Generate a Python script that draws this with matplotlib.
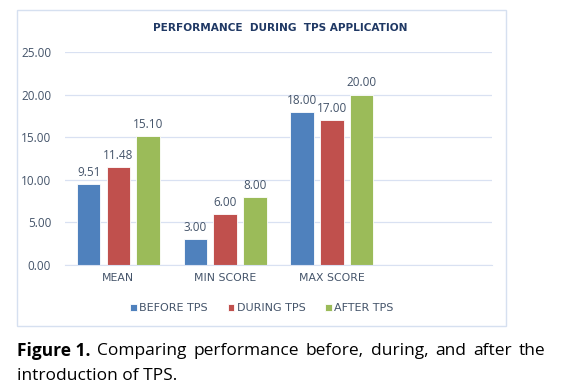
"""
Performance during TPS application - grouped bar chart.
"""
import numpy as np
import matplotlib
matplotlib.use("Agg")
from matplotlib import pyplot as plt
from matplotlib.patches import Rectangle

categories = ["MEAN", "MIN SCORE", "MAX SCORE", ""]
before_tps = [9.51, 3.00, 18.00]
during_tps = [11.48, 6.00, 17.00]
after_tps = [15.10, 8.00, 20.00]
series_names = ["BEFORE TPS", "DURING TPS", "AFTER TPS"]
y_ticks = [0, 5, 10, 15, 20, 25]

colors = ["#4F81BD", "#C0504D", "#9BBB59"]
tick_color = "#44546A"
title_color = "#1F3864"

plt.rcParams['font.family'] = ['Open Sans', 'DejaVu Sans']

W, H = 561, 389
fig = plt.figure(figsize=(W / 100, H / 100), dpi=100)


def fx(px):
    return px / W


def fy(py):
    return 1 - py / H


# chart frame
fig.patches.append(Rectangle((fx(17), fy(326)), fx(506) - fx(17), fy(10) - fy(326),
                             transform=fig.transFigure, fill=False,
                             edgecolor="#D6E0F0", linewidth=1.0))

ax = fig.add_axes([fx(65), fy(265), fx(492) - fx(65), fy(52) - fy(265)])
x = np.arange(len(categories))
width = 0.22
offset = 0.278
for i, (vals, name) in enumerate(zip([before_tps, during_tps, after_tps], series_names)):
    pos = x[:len(vals)] + (i - 1) * offset
    bars = ax.bar(pos, vals, width, color=colors[i], edgecolor="white",
                  linewidth=0.6, label=name, zorder=2)
    for b, v in zip(bars, vals):
        ax.text(b.get_x() + b.get_width() / 2, v + 0.6, "%.2f" % v, ha="center",
                va="bottom", fontsize=8.5, color=tick_color)

ax.set_xlim(-0.5, len(categories) - 0.5)
ax.set_ylim(0, 25)
ax.set_yticks(y_ticks)
ax.set_yticklabels(["%.2f" % t for t in y_ticks])
ax.set_xticks(x)
ax.set_xticklabels(categories)
ax.tick_params(axis="both", length=0, colors=tick_color, labelsize=8.5)
ax.tick_params(axis="y", pad=10)
ax.tick_params(axis="x", pad=6)
for lbl in ax.get_xticklabels():
    lbl.set_fontfamily(['DejaVu Sans'])
    lbl.set_fontsize(7.8)
ax.grid(axis="y", color="#D9E1F2", linewidth=0.9, zorder=0)
for s in ["top", "right", "left"]:
    ax.spines[s].set_visible(False)
ax.spines["bottom"].set_color("#D9E1F2")

fig.text(fx(280), fy(28), "PERFORMANCE  DURING  TPS APPLICATION", ha="center",
         va="center", fontsize=7.6, fontweight="bold", color=title_color,
         family=['DejaVu Sans'])

leg = fig.legend(loc="center", bbox_to_anchor=(fx(262), fy(308)), ncol=3, frameon=False,
                 handlelength=0.6, handleheight=0.6, handletextpad=0.2,
                 columnspacing=1.8, prop={'family': 'DejaVu Sans', 'size': 8})
for t in leg.get_texts():
    t.set_color(tick_color)

# caption, justified first line
fig.canvas.draw()
renderer = fig.canvas.get_renderer()
words = ["Comparing", "performance", "before,", "during,", "and", "after", "the"]
cap_size = 12.5
x_left, x_right = 17, 545
y1 = fy(351)
head = fig.text(fx(x_left), y1, "Figure 1.", fontsize=cap_size, fontweight="bold",
                va="center", ha="left", color="black")
items = [head]
for w in words:
    items.append(fig.text(0, y1, w, fontsize=cap_size, va="center", ha="left", color="black"))
widths = [t.get_window_extent(renderer).width for t in items]
gap = (x_right - x_left - sum(widths)) / (len(items) - 1)
cur = x_left
for t, wd in zip(items, widths):
    t.set_x(fx(cur))
    cur += wd + gap
fig.text(fx(x_left), fy(376), "introduction of TPS.", fontsize=cap_size, va="center",
         ha="left", color="black")

fig.savefig("out.png", dpi=100)
